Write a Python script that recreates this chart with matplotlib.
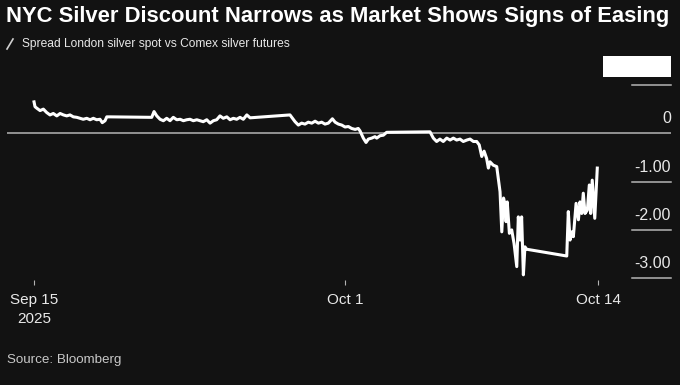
import pandas as pd
import matplotlib
matplotlib.use("Agg")
import matplotlib.pyplot as plt
import matplotlib.transforms as mtransforms
from matplotlib.lines import Line2D
from matplotlib.patches import Rectangle

# days since Sep 15 2025 (intraday, fractional) and spread in USD/oz
start_date = "2025-09-15"
days = [
    0.00, 0.05, 0.14, 0.31, 0.48, 0.65, 0.82, 0.99, 1.17, 1.34, 1.51, 1.68, 1.85, 2.02, 2.20,
    2.37, 2.53, 2.71, 2.88, 3.05, 3.22, 3.39, 3.51, 3.65, 3.74, 3.91,
    6.05, 6.17, 6.31, 6.48, 6.65, 6.82, 6.99, 7.16, 7.34, 7.51, 7.68, 7.85, 8.02, 8.19, 8.37,
    8.53, 8.70, 8.88, 9.05, 9.22, 9.39, 9.56, 9.73, 9.91, 10.08, 10.25, 10.42, 10.59, 10.76,
    10.94, 11.11,
    13.16, 13.42, 13.59, 13.76, 13.93, 14.10, 14.28, 14.45, 14.62, 14.79, 14.96, 15.13, 15.34,
    15.48, 15.65, 15.82, 15.99, 16.16, 16.33, 16.51, 16.67, 16.76, 16.93, 17.07, 17.19, 17.36,
    17.53, 17.62, 17.79, 17.96, 18.13,
    20.36, 20.53, 20.70, 20.87, 21.04, 21.22, 21.39, 21.56, 21.73, 21.90, 22.07, 22.25, 22.42,
    22.59, 22.76, 22.89, 23.02, 23.14, 23.27, 23.36, 23.44, 23.61, 23.79, 23.87, 23.96, 24.05,
    24.14, 24.22, 24.27, 24.33, 24.44, 24.56, 24.68, 24.82, 24.90, 24.99, 25.07, 25.16, 25.24,
    25.33,
    27.39, 27.47, 27.56, 27.65, 27.73, 27.87, 27.99, 28.07, 28.16, 28.24, 28.33, 28.45, 28.55,
    28.62, 28.70, 28.83, 28.96,
]
spread = [
    0.65, 0.55, 0.52, 0.47, 0.50, 0.43, 0.38, 0.41, 0.36, 0.41, 0.38, 0.36, 0.38, 0.34, 0.33,
    0.31, 0.29, 0.31, 0.28, 0.31, 0.28, 0.29, 0.22, 0.26, 0.34, 0.34,
    0.33, 0.45, 0.36, 0.29, 0.26, 0.31, 0.26, 0.33, 0.28, 0.29, 0.26, 0.28, 0.29, 0.26, 0.28,
    0.26, 0.24, 0.28, 0.21, 0.26, 0.28, 0.36, 0.31, 0.34, 0.28, 0.31, 0.29, 0.33, 0.29,
    0.38, 0.32,
    0.38, 0.24, 0.17, 0.21, 0.19, 0.23, 0.21, 0.25, 0.21, 0.23, 0.19, 0.21, 0.30,
    0.23, 0.19, 0.17, 0.13, 0.14, 0.10, 0.08, 0.10, 0.05, -0.10, -0.19, -0.12, -0.10,
    -0.07, -0.10, -0.05, -0.04, 0.02,
    0.03, -0.10, -0.17, -0.12, -0.17, -0.10, -0.14, -0.10, -0.14, -0.12, -0.17, -0.14, -0.12,
    -0.17, -0.17, -0.24, -0.48, -0.37, -0.52, -0.72, -0.59, -0.66, -0.69, -0.93, -1.21, -2.04,
    -1.34, -1.48, -1.83, -1.42, -2.07, -2.00, -2.28, -2.76, -1.73, -2.21, -1.73, -2.93, -2.35,
    -2.40,
    -2.54, -1.62, -2.21, -2.04, -2.14, -1.45, -1.79, -1.42, -1.66, -1.24, -1.66, -1.59, -1.07,
    -1.66, -0.97, -1.76, -0.72,
]
y_ticks = [1.0, 0.0, -1.0, -2.0, -3.0]
y_labels = ["", "0", "-1.00", "-2.00", "-3.00"]
x_ticks = ["2025-09-15", "2025-10-01", "2025-10-14"]
x_labels = ["Sep 15\n2025", "Oct 1", "Oct 14"]

title = "NYC Silver Discount Narrows as Market Shows Signs of Easing"
subtitle = "Spread London silver spot vs Comex silver futures"
source = "Source: Bloomberg"

BG = "#121212"
TXT = "#e8e8e8"
GRID = "#b4b4b4"

plt.rcParams["font.family"] = ["Liberation Sans", "DejaVu Sans"]

times = pd.Timestamp(start_date) + pd.to_timedelta(days, unit="D")

W, H = 680, 385
fig = plt.figure(figsize=(W / 100, H / 100), dpi=100, facecolor=BG)
ax = fig.add_axes([7 / W, 1 - 285 / H, 664 / W, 201 / H], facecolor=BG)

ax.plot(times, spread, color="white", lw=2.2, zorder=3)
ax.axhline(0, color=GRID, lw=1.1, zorder=2)

t0 = pd.Timestamp(start_date)
ax.set_xlim(t0 - pd.Timedelta(days=1.39), t0 + pd.Timedelta(days=32.75))
ax.set_ylim(-3.14, 1.02)

for s in ax.spines.values():
    s.set_visible(False)

ax.set_yticks([])
ax.set_xticks(pd.to_datetime(x_ticks))
ax.set_xticklabels(x_labels, fontsize=11, color=TXT, linespacing=1.4)
ax.tick_params(axis="x", direction="in", length=3.5, width=0.8, color=GRID, pad=6)

# right-hand value labels sitting on short rules
blend = mtransforms.blended_transform_factory(ax.transAxes, ax.transData)
lab_tr = mtransforms.offset_copy(blend, fig=fig, y=5, units="points")
for v, lab in zip(y_ticks, y_labels):
    if v != 0:
        ax.plot([0.941, 1.0], [v, v], color=GRID, lw=1.1, transform=blend, clip_on=False)
    if lab:
        ax.text(1.0, v, lab, transform=lab_tr, ha="right", va="bottom",
                fontsize=11.5, color=TXT)

renderer = fig.canvas.get_renderer()


def fit_text(x_px, y_px, s, width_px, size, **kw):
    t = fig.text(x_px / W, 1 - y_px / H, s, fontsize=size, ha="left", va="center", **kw)
    w = t.get_window_extent(renderer).width
    t.set_fontsize(size * width_px / w)
    return t


fit_text(6, 16.5, title, 662, 16, fontweight="bold", color="white")
fit_text(22, 44, subtitle, 271, 10.5, color=TXT)
fig.add_artist(Line2D([7 / W, 13 / W], [1 - 49 / H, 1 - 39 / H], color="#d0d0d0", lw=1.2))
fit_text(7, 360, source, 115, 9.5, color="#c8c8c8")

# white box in the top right corner
fig.add_artist(Rectangle((603 / W, 1 - 77 / H), 68 / W, 21 / H, transform=fig.transFigure,
                         facecolor="white", edgecolor="none"))

fig.savefig("out.png", dpi=100, facecolor=BG)
